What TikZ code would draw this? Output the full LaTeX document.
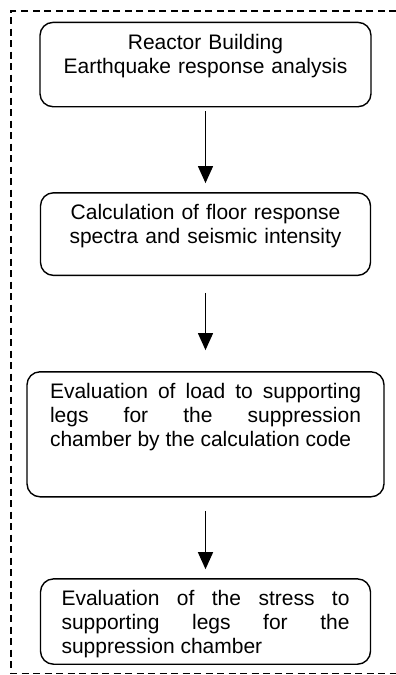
\documentclass[tikz,border=0pt]{standalone}
\usepackage{fontspec}
\setmainfont{Liberation Sans}
\usetikzlibrary{positioning, arrows.meta}
\hyphenpenalty=10000
\tolerance=9999
\hbadness=10000

\begin{document}
\begin{tikzpicture}[x=1pt, y=1pt, node distance=80pt,
        every node/.style={font=\fontsize{21}{24}\selectfont},
        stage/.style={draw, rectangle, rounded corners=13pt, line width=1.4pt, inner xsep=22pt, inner ysep=12pt, text height=15pt},
        flow/.style={-{Triangle[width=15pt, length=17pt]}, line width=1.3pt}]
        \useasboundingbox (0,0) rectangle (396,-675);

        % outer dashed frame, open on the right
        \draw[line width=1.3pt, dash pattern=on 7pt off 4.5pt] (396,-11) -- (11,-11) -- (11,-673.3) -- (396,-673.3);

        \node[stage, anchor=north, text width=287pt, text depth=45.3pt, align=center] (reactor) at (205.5,-21.7) {Reactor Building\\Earthquake response analysis};
        \node[stage, text width=286pt, text depth=43.6pt, align=center, below=84.7pt of reactor] (spectra) {Calculation of floor response\\spectra and seismic intensity};
        \node[stage, inner xsep=23pt, text width=311pt, text depth=86pt, align=justify, below=95pt of spectra] (load) {Evaluation of load to supporting\linebreak legs for the suppression\linebreak chamber by the calculation code};
        \node[stage, inner xsep=21pt, text width=288pt, text depth=46.3pt, align=justify, below=80.7pt of load] (stress) {Evaluation of the stress to\linebreak supporting legs for the\linebreak suppression chamber};

        \draw[flow, shorten <=4pt, shorten >=9pt] (reactor) -- (spectra);
        \draw[flow, shorten <=16.7pt, shorten >=21pt] (spectra) -- (load);
        \draw[flow, shorten <=13.4pt, shorten >=9pt] (load) -- (stress);
    \end{tikzpicture}
\end{document}
